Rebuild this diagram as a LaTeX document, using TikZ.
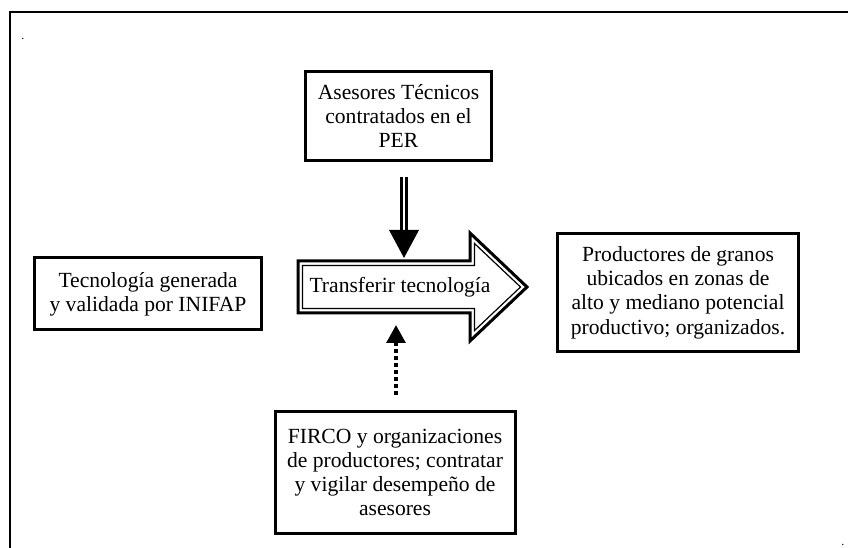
\documentclass[tikz,border=0pt]{standalone}
\usepackage{fontspec}
\setmainfont{Liberation Serif}
\usetikzlibrary{arrows.meta, positioning}

\begin{document}
\begin{tikzpicture}[x=0.75pt,y=-0.75pt,
	caja/.style={draw, line width=2.25pt, align=center, inner sep=0pt, font=\fontsize{16.2}{18.2}\selectfont},
	baja/.style={double, line width=1.9pt, double distance=1.9pt, -{Triangle[length=21pt,width=22pt]}},
	sube/.style={line width=3pt, dash pattern=on 3pt off 2.2pt, -{Triangle[length=13.5pt,width=14pt]}},
	punto/.style={font=\fontsize{9}{9}\selectfont, inner sep=0pt, anchor=base west},
	]
	\useasboundingbox (0,0) rectangle (848,548);
	\draw[line width=1.1pt] (848,12) -- (10,12) -- (10,548);
	\node[punto] (p1) at (21,40) {.};
	\node[punto] (p2) at (841,545) {.};

	\node[caja, minimum width=140pt, minimum height=67pt] (asesores) at (398.5,116) {Asesores Técnicos\\contratados en el\\PER};
	\node[caja, minimum width=170pt, minimum height=54pt] (tecnologia) at (148,294) {Tecnología generada\\y validada por INIFAP};
	\node[caja, minimum width=181pt, minimum height=89pt] (productores) at (678,292.5) {Productores de granos\\ubicados en zonas de\\alto y mediano potencial\\productivo; organizados.};
	\node[caja, minimum width=180pt, minimum height=91pt] (firco) at (395,472.5) {FIRCO y organizaciones\\de productores; contratar\\y vigilar desempeño de\\asesores};

	\draw[line width=2.25pt] (298,261) -- (470,261) -- (470,233) -- (527,287) -- (470,341) -- (470,313) -- (298,313) -- cycle;
	\draw[line width=0.9pt] (302.5,265.5) -- (474.5,265.5) -- (474.5,243.5) -- (520.5,287) -- (474.5,330.5) -- (474.5,308.5) -- (302.5,308.5) -- cycle;
	\node[font=\fontsize{16.2}{18.2}\selectfont, inner sep=0pt] (transferir) at (400,287) {Transferir tecnología};

	\coordinate (bajada) at (404,177);
	\coordinate (punta) at (404,258);
	\draw[baja] (bajada) -- (punta);
	\coordinate (subida) at (396,395);
	\coordinate (tope) at (396,325);
	\draw[sube] (subida) -- (tope);
\end{tikzpicture}
\end{document}
